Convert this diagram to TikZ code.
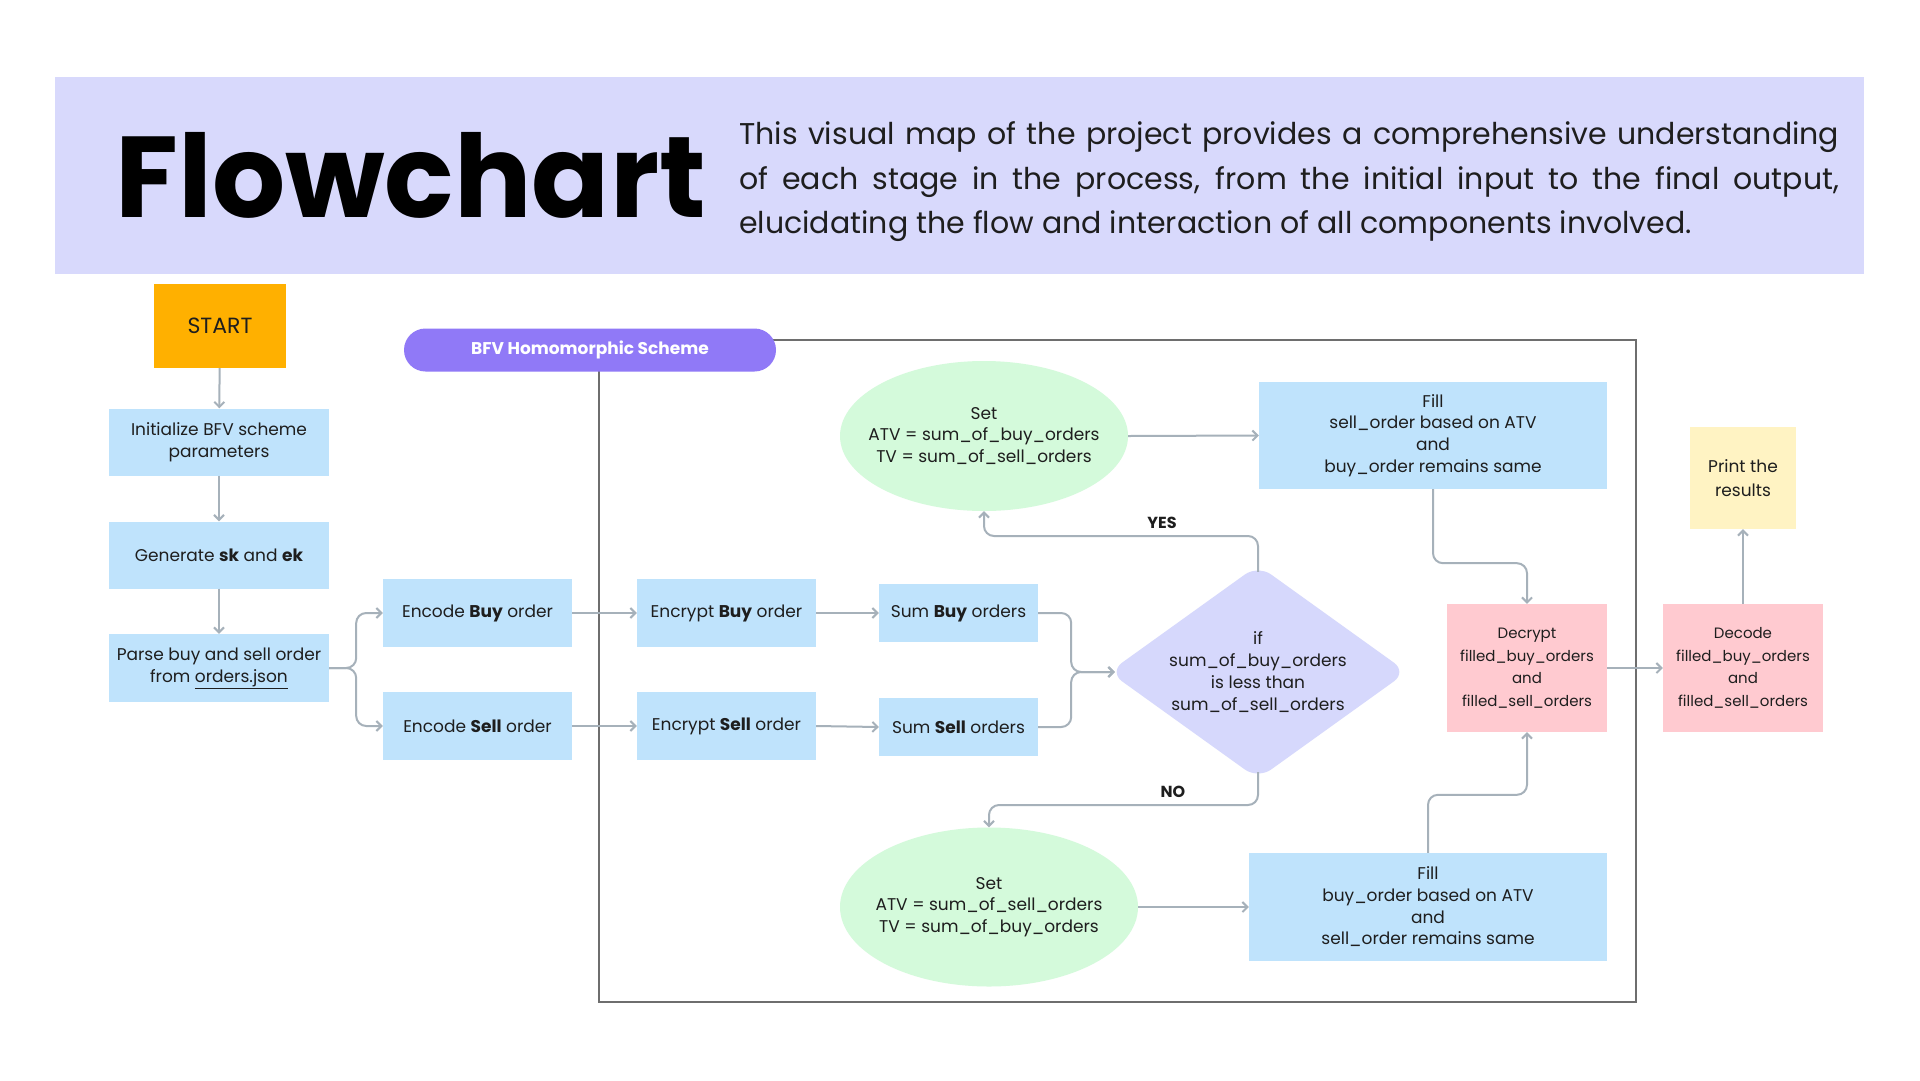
\documentclass[tikz,border=0pt]{standalone}
\usepackage{fontspec}
\setmainfont{Poppins}
\usetikzlibrary{arrows.meta,shapes.geometric}
\definecolor{headbg}{HTML}{D8D9FC}
\definecolor{boxblue}{HTML}{BFE3FC}
\definecolor{ellgreen}{HTML}{D4FADB}
\definecolor{diacol}{HTML}{D6D8FC}
\definecolor{pinkbox}{HTML}{FFCAD0}
\definecolor{yellowbox}{HTML}{FFF3C3}
\definecolor{startorange}{HTML}{FFB000}
\definecolor{pillpurple}{HTML}{9079F7}
\definecolor{conncol}{HTML}{A6B1BA}
\definecolor{framecol}{HTML}{6E6E6E}
\definecolor{txt}{HTML}{1E1E1E}
\tikzset{
  box/.style={rectangle, fill=boxblue, inner sep=0pt, align=center, text=txt,
    font=\fontsize{17}{22}\selectfont},
  ellbox/.style={ellipse, fill=ellgreen, inner sep=0pt},
  elltext/.style={align=center, text=txt, inner sep=0pt, font=\fontsize{17}{21.7}\selectfont},
  pinkstyle/.style={rectangle, fill=pinkbox, inner sep=0pt, align=center, text=txt,
    font=\fontsize{15}{22.5}\selectfont, minimum width=160pt, minimum height=128pt},
  conn/.style={draw=conncol, line width=2pt, rounded corners=10pt,
    -{Straight Barb[length=5pt,width=10pt,line width=2pt]}},
  framestyle/.style={draw=framecol, line width=1.5pt},
  lbl/.style={font=\fontsize{16}{16}\selectfont\bfseries, text=txt, inner sep=0pt},
  hdtext/.style={anchor=base west, inner sep=0pt, text=txt, font=\fontsize{30}{30}\selectfont}
}
\begin{document}
\begin{tikzpicture}[x=1pt,y=-1pt]
\useasboundingbox (0,0) rectangle (1920,1080);
\fill[white] (0,0) rectangle (1920,1080);
% header
\fill[headbg] (55,77) rectangle (1864,274);
\node[anchor=base west, inner sep=0pt, text=black] (title) at (115,217)
  {\fontsize{115}{115}\selectfont\bfseries Flowchart};
\node[hdtext] (hd1) at (739,144)
  {\makebox[1100pt][s]{This visual map of the project provides a comprehensive understanding}};
\node[hdtext] (hd2) at (739,189)
  {\makebox[1100pt][s]{of each stage in the process, from the initial input to the final output,}};
\node[hdtext] (hd3) at (739,233)
  {elucidating the flow and interaction of all components involved.};
% frame
\draw[framestyle] (700,340) -- (1636,340) -- (1636,1002) -- (599,1002) -- (599,360);
% left column
\node[rectangle, fill=startorange, minimum width=132pt, minimum height=84pt, text=txt,
  font=\fontsize{22}{22}\selectfont] (start) at (220,326) {START};
\node[box, minimum width=220pt, minimum height=67pt] (init) at (219,442) {Initialize BFV scheme\\parameters};
\node[box, minimum width=220pt, minimum height=67pt] (gen) at (219,555) {Generate \textbf{sk} and \textbf{ek}};
\node[box, minimum width=220pt, minimum height=68pt] (parse) at (219,668) {Parse buy and sell order\\from \underline{orders.json}};
% pill
\node[rectangle, rounded corners=21.5pt, fill=pillpurple, minimum width=372pt, minimum height=43pt,
  text=white, font=\fontsize{17}{17}\selectfont\bfseries] (pill) at (590,350) {BFV Homomorphic Scheme};
% middle
\node[box, minimum width=189pt, minimum height=68pt] (encb) at (477.5,613) {Encode \textbf{Buy} order};
\node[box, minimum width=189pt, minimum height=68pt] (encs) at (477.5,726) {Encode \textbf{Sell} order};
\node[box, minimum width=179pt, minimum height=68pt] (encrb) at (726.5,613) {Encrypt \textbf{Buy} order};
\node[box, minimum width=179pt, minimum height=68pt] (encrs) at (726.5,726) {Encrypt \textbf{Sell} order};
\node[box, minimum width=159pt, minimum height=58pt] (sumb) at (958.5,613) {Sum \textbf{Buy} orders};
\node[box, minimum width=159pt, minimum height=58pt] (sums) at (958.5,727) {Sum \textbf{Sell} orders};
\node[diamond, aspect=1.396, fill=diacol, inner sep=0pt, minimum width=298pt, minimum height=214pt,
  rounded corners=16pt, align=center, text=txt, font=\fontsize{17}{21.7}\selectfont] (dia) at (1258,672)
  {if\\sum\_of\_buy\_orders\\is less than\\sum\_of\_sell\_orders};
\node[ellbox, minimum width=288pt, minimum height=150pt,
  label={[elltext]center:Set\\ATV = sum\_of\_buy\_orders\\TV = sum\_of\_sell\_orders}] (ellt) at (984,436) {};
\node[ellbox, minimum width=298pt, minimum height=159pt,
  label={[elltext]center:Set\\ATV = sum\_of\_sell\_orders\\TV = sum\_of\_buy\_orders}] (ellb) at (989,907) {};
\node[box, minimum width=348pt, minimum height=107pt, font=\fontsize{17}{21.7}\selectfont] (fillt) at (1433,435.5)
  {Fill\\sell\_order based on ATV\\and\\buy\_order remains same};
\node[box, minimum width=358pt, minimum height=108pt, font=\fontsize{17}{21.7}\selectfont] (fillb) at (1428,907)
  {Fill\\buy\_order based on ATV\\and\\sell\_order remains same};
\node[pinkstyle] (dec) at (1527,668) {Decrypt\\filled\_buy\_orders\\and\\filled\_sell\_orders};
\node[pinkstyle] (decode) at (1743,668) {Decode\\filled\_buy\_orders\\and\\filled\_sell\_orders};
\node[rectangle, fill=yellowbox, minimum width=106pt, minimum height=102pt, inner sep=0pt, align=center,
  text=txt, font=\fontsize{17}{24}\selectfont] (print) at (1743,478) {Print the\\results};
% connectors
\draw[conn] (start) -- (init);
\draw[conn] (init) -- (gen);
\draw[conn] (gen) -- (parse);
\draw[conn] (parse.east) -- ++(27,0) |- (encb.west);
\draw[conn] (parse.east) -- ++(27,0) |- (encs.west);
\draw[conn] (encb) -- (encrb);
\draw[conn] (encs) -- (encrs);
\draw[conn] (encrb) -- (sumb);
\draw[conn] (encrs.east) -- (sums.west);
\draw[conn] (sumb.east) -- ++(33,0) |- ([xshift=6pt]dia.west);
\draw[conn] (sums.east) -- ++(33,0) |- ([xshift=6pt]dia.west);
\draw[conn] ([yshift=-7pt]dia.north) -- (1258,536) -| (ellt.south);
\draw[conn] ([yshift=7pt]dia.south) -- (1258,805) -| (ellb.north);
\node[lbl] (yes) at (1162,523) {YES};
\node[lbl] (no) at (1173,792) {NO};
\draw[conn] (ellt.east) -- (fillt.west);
\draw[conn] (ellb.east) -- (fillb.west);
\draw[conn] (fillt.south) -- ++(0,74) -| (dec.north);
\draw[conn] (fillb.north) -- ++(0,-58) -| (dec.south);
\draw[conn] (dec) -- (decode);
\draw[conn] (decode) -- (print);
\end{tikzpicture}
\end{document}
